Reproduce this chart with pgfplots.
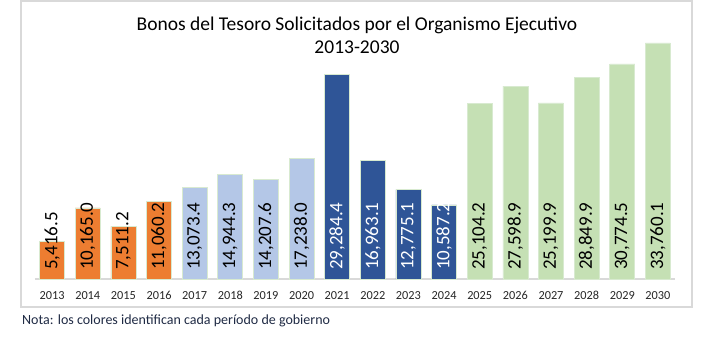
\documentclass[border=0pt]{standalone}
\usepackage{fontspec}
\setmainfont{Carlito}
\usepackage{pgfplots}
\pgfplotsset{compat=1.18}
\definecolor{cOr}{HTML}{ED7D31}
\definecolor{cLb}{HTML}{B4C7E7}
\definecolor{cDb}{HTML}{2F5597}
\definecolor{cGr}{HTML}{C5E0B4}
\definecolor{cEdge}{HTML}{D8EAD0}
\definecolor{cFrame}{HTML}{D9D9D9}
\definecolor{cNote}{HTML}{1F2A44}
\begin{document}
\begin{tikzpicture}[x=1pt,y=1pt]
\useasboundingbox (0,0) rectangle (710,358);
\draw[line width=2pt, color=cFrame] (21,51) rectangle (692,357);
\node[font=\fontsize{19.5}{22}\selectfont, anchor=base] at (357,327) {Bonos del Tesoro Solicitados por el Organismo Ejecutivo};
\node[font=\fontsize{19.5}{22}\selectfont, anchor=base] at (357,304) {2013-2030};
\node[font=\fontsize{14}{15}\selectfont, anchor=base west, inner sep=0pt, text=cNote] at (22,33) {Nota: los colores identifican cada período de gobierno};
\begin{axis}[
  at={(35pt,79pt)}, anchor=south west,
  width=640pt, height=236pt, scale only axis,
  xmin=-0.48, xmax=17.48, ymin=0, ymax=33760.1,
  axis y line=none, axis x line*=bottom,
  x axis line style={draw=black!15, line width=1.5pt},
  xtick={0,...,17},
  xticklabels={2013,2014,2015,2016,2017,2018,2019,2020,2021,2022,2023,2024,2025,2026,2027,2028,2029,2030},
  major tick length=0pt,
  xticklabel style={font=\fontsize{12.3}{12}\selectfont, text=black!85, anchor=base, yshift=-21pt, inner sep=0pt},
  clip=false,
  lab/.style={draw=none, mark=none, nodes near coords, point meta=explicit symbolic,
    every node near coord/.append style={font=\fontsize{19}{19}\selectfont, rotate=90, anchor=west, inner sep=0pt, xshift=9pt}},
  bar/.style={ybar, bar width=25pt, bar shift=0pt, draw=cEdge, line width=0.6pt},
]
\addplot[bar, fill=cOr] coordinates {(0,5416.5) (1,10165.0) (2,7511.2) (3,11060.2)};
\addplot[bar, fill=cLb] coordinates {(4,13073.4) (5,14944.3) (6,14207.6) (7,17238.0)};
\addplot[bar, fill=cDb] coordinates {(8,29284.4) (9,16963.1) (10,12775.1) (11,10587.2)};
\addplot[bar, fill=cGr] coordinates {(12,25104.2) (13,27598.9) (14,25199.9) (15,28849.9) (16,30774.5) (17,33760.1)};
\addplot[lab, every node near coord/.append style={text=black}] table[x=x, y=y, meta=lab] {
x y lab
0 0 5,416.5
1 0 10,165.0
2 0 7,511.2
3 0 11,060.2
4 0 13,073.4
5 0 14,944.3
6 0 14,207.6
7 0 17,238.0
12 0 25,104.2
13 0 27,598.9
14 0 25,199.9
15 0 28,849.9
16 0 30,774.5
17 0 33,760.1
};
\addplot[lab, every node near coord/.append style={text=white}] table[x=x, y=y, meta=lab] {
x y lab
8 0 29,284.4
9 0 16,963.1
10 0 12,775.1
11 0 10,587.2
};
\end{axis}
\end{tikzpicture}
\end{document}
